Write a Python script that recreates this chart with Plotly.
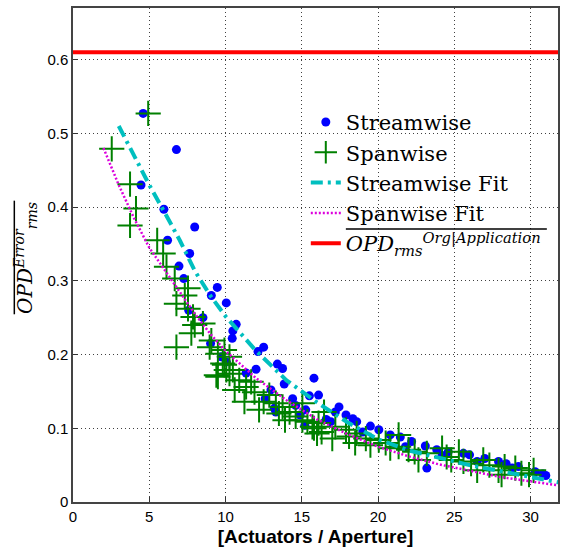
import plotly.graph_objects as go

# ---- data ----
stream_x = [4.6, 6.78, 4.46, 5.96, 7.98, 6.2, 7.65, 6.95, 7.26, 9.46, 9.07, 10.05, 7.59, 8.52,
            10.7, 10.48, 10.44, 9.02, 9.72, 12.13, 11.35, 12.0, 12.5, 13.4, 13.74, 15.8, 13.85,
            12.98, 14.4, 16.1, 13.2, 14.6, 15.26, 10.05, 15.5, 17.44, 17.2, 17.9, 18.35, 16.9,
            18.6, 19.5, 20.05, 20.8, 21.46, 22.2, 23.1, 23.85, 24.6, 25.6, 26.0, 27.0, 27.9,
            28.4, 29.2, 30.3, 30.8, 23.2, 13.3, 19.0, 21.8, 24.2, 26.5, 28.8, 31.0,
            14.9, 16.6, 12.6, 15.2]
stream_y = [0.527, 0.478, 0.430, 0.397, 0.373, 0.355, 0.337, 0.320, 0.303, 0.291, 0.280, 0.270,
            0.260, 0.250, 0.241, 0.232, 0.222, 0.215, 0.197, 0.204, 0.175, 0.180, 0.210, 0.187,
            0.181, 0.168, 0.160, 0.152, 0.140, 0.145, 0.127, 0.131, 0.125, 0.190, 0.144, 0.129,
            0.122, 0.118, 0.113, 0.109, 0.109, 0.103, 0.098, 0.091, 0.088, 0.082, 0.076, 0.071,
            0.068, 0.066, 0.064, 0.059, 0.055, 0.052, 0.048, 0.041, 0.038, 0.046, 0.122, 0.095,
            0.075, 0.063, 0.055, 0.046, 0.036,
            0.118, 0.112, 0.140, 0.104]

span_x = [4.93, 2.54, 3.74, 4.13, 3.74, 5.52, 5.91, 6.13, 6.67, 7.54, 7.33, 6.78, 7.54, 7.87,
          7.98, 7.76, 6.78, 9.07, 9.5, 10.26, 9.82, 10.05, 9.4, 9.93, 8.52, 8.96, 9.93, 10.48,
          10.26, 10.9, 11.68, 11.35, 11.9, 12.87, 12.5, 13.3, 13.74, 13.5, 14.2, 14.6, 15.04,
          15.37, 15.7, 16.0, 11.24, 9.5, 10.6, 15.04, 16.1, 16.46, 17.2, 17.9, 18.1, 18.6,
          19.2, 19.5, 20.05, 20.5, 20.8, 21.35, 21.35, 22.0, 22.4, 22.65, 23.2, 15.8, 17.0,
          18.5, 24.2, 24.5, 24.8, 25.3, 25.6, 26.1, 26.5, 26.9, 27.3, 27.9, 28.3, 29.0, 29.4,
          29.9, 30.2, 28.1, 16.3, 13.9, 12.2]
span_y = [0.527, 0.479, 0.431, 0.398, 0.375, 0.355, 0.337, 0.319, 0.303, 0.290, 0.280, 0.269,
          0.262, 0.251, 0.240, 0.229, 0.210, 0.219, 0.201, 0.197, 0.188, 0.179, 0.172, 0.206,
          0.242, 0.210, 0.186, 0.179, 0.174, 0.165, 0.163, 0.156, 0.149, 0.145, 0.136, 0.134,
          0.129, 0.120, 0.122, 0.116, 0.111, 0.109, 0.102, 0.093, 0.136, 0.170, 0.152, 0.134,
          0.107, 0.122, 0.102, 0.098, 0.089, 0.093, 0.086, 0.077, 0.084, 0.080, 0.073, 0.091,
          0.075, 0.071, 0.068, 0.057, 0.066, 0.100, 0.086, 0.080, 0.073, 0.061, 0.057, 0.068,
          0.055, 0.052, 0.043, 0.057, 0.050, 0.043, 0.048, 0.046, 0.039, 0.037, 0.043, 0.037,
          0.095, 0.111, 0.125]

stream_fit_x = [3, 4, 5, 6, 7, 8, 9, 10, 11, 12, 14, 16, 18, 20, 22, 24, 26, 28, 30, 32]
stream_fit_y = [0.51, 0.47, 0.43, 0.393, 0.355, 0.313, 0.28, 0.252, 0.228, 0.205, 0.165, 0.135,
                0.108, 0.085, 0.07, 0.06, 0.05, 0.042, 0.034, 0.026]

span_fit_x = [2.0, 3, 4, 5, 6, 7, 8, 9, 10, 12, 14, 16, 18, 20, 22, 24, 26, 28, 30, 32]
span_fit_y = [0.48, 0.43, 0.385, 0.345, 0.315, 0.285, 0.255, 0.228, 0.205, 0.168, 0.138, 0.112,
              0.092, 0.075, 0.062, 0.051, 0.042, 0.034, 0.028, 0.022]

opd_org = 0.61
x_span = [0, 32]

x_ticks = [0, 5, 10, 15, 20, 25, 30]
y_ticks = [0, 0.1, 0.2, 0.3, 0.4, 0.5, 0.6]
y_tick_text = ["0", "0.1", "0.2", "0.3", "0.4", "0.5", "0.6"]

SERIF = "'DejaVu Serif', 'Liberation Serif', serif"
SANS = "'Liberation Sans', Arial, sans-serif"

fig = go.Figure()
fig.add_trace(go.Scatter(x=stream_x, y=stream_y, mode="markers", name="Streamwise",
                         marker=dict(symbol="circle", size=9, color="rgb(0,0,255)")))
fig.add_trace(go.Scatter(x=span_x, y=span_y, mode="markers", name="Spanwise",
                         marker=dict(symbol="cross-thin", size=18,
                                     line=dict(color="rgb(0,128,0)", width=2))))
fig.add_trace(go.Scatter(x=stream_fit_x, y=stream_fit_y, mode="lines", name="Streamwise Fit",
                         line=dict(color="rgb(0,191,191)", width=4, dash="12px,5px,3px,5px")))
fig.add_trace(go.Scatter(x=span_fit_x, y=span_fit_y, mode="lines", name="Spanwise Fit",
                         line=dict(color="rgb(220,0,220)", width=2.5, dash="2px,2px")))
fig.add_trace(go.Scatter(x=x_span, y=[opd_org, opd_org], mode="lines",
                         name="<i>OPD</i><sub><i>rms</i></sub><sup><i>Org|Application</i></sup>",
                         line=dict(color="rgb(255,0,0)", width=4)))

grid_style = dict(showgrid=True, gridcolor="rgba(0,0,0,0.75)", griddash="1px,3px", gridwidth=1)

fig.update_layout(
    width=561, height=550,
    margin=dict(l=73, r=1, t=8, b=48),
    paper_bgcolor="white", plot_bgcolor="white",
    showlegend=True,
    legend=dict(x=0.48, y=0.81, xanchor="left", yanchor="top",
                bgcolor="rgba(255,255,255,0)", borderwidth=0,
                font=dict(family=SERIF, size=21, color="black"),
                itemsizing="trace", tracegroupgap=0),
    xaxis=dict(range=[0, 31.8], tickvals=x_ticks, ticks="inside", ticklen=5,
               tickcolor="#333", showline=True, linecolor="#444", linewidth=1.5, mirror=True,
               zeroline=False, **grid_style,
               tickfont=dict(family=SANS, size=15, color="black"),
               title=dict(text="<b>[Actuators / Aperture]</b>", standoff=6,
                          font=dict(family=SANS, size=19, color="black"))),
    yaxis=dict(range=[0, 0.67], tickvals=y_ticks, ticktext=y_tick_text,
               ticks="inside", ticklen=5,
               tickcolor="#333", showline=True, linecolor="#444", linewidth=1.5, mirror=True,
               zeroline=False, **grid_style,
               tickfont=dict(family=SANS, size=15, color="black")),
    annotations=[dict(text="<i>OPD</i><sup><i>Error</i></sup><sub><i>rms</i></sub>",
                      xref="paper", yref="paper", x=-0.098, y=0.495, xanchor="center",
                      yanchor="middle", textangle=-90, showarrow=False,
                      font=dict(family=SERIF, size=20, color="black"))],
    shapes=[dict(type="line", xref="paper", yref="paper", x0=-0.121, x1=-0.121,
                 y0=0.38, y1=0.61, line=dict(color="black", width=1.5)),
            dict(type="line", xref="paper", yref="paper", x0=0.5626, x1=0.977,
                 y0=0.5526, y1=0.5526, line=dict(color="black", width=1.5))],
)

fig.write_html("out.html")
